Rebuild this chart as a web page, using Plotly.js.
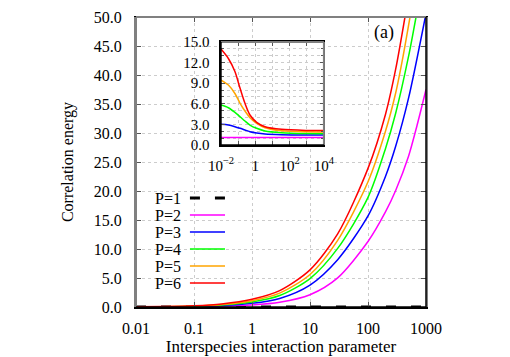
<!DOCTYPE html>
<html>
<head>
<meta charset="utf-8">
<script src="https://cdn.plot.ly/plotly-3.0.1.min.js"></script>
<style>html,body{margin:0;padding:0;background:#fff;}#plot{width:510px;height:357px;}</style>
</head>
<body>
<div id="plot"></div>
<script>
// ---- main panel data (interaction parameter g, correlation energy E) ----
const seriesNames = ['P=1', 'P=2', 'P=3', 'P=4', 'P=5', 'P=6'];
const seriesColors = ['#000000', '#ff00ff', '#0000ff', '#00ff00', '#ffa500', '#ff0000'];

const gP1 = [0.01, 1000];
const eP1 = [0, 0];
const gP2 = [0.01, 0.03, 0.1, 0.3, 1, 3, 10, 30, 100, 200, 300, 500, 700, 1000];
const eP2 = [0.006, 0.018, 0.052, 0.13, 0.34, 0.81, 2.12, 5.03, 11.3, 16.4, 20.1, 26.0, 31.3, 37.5];
const gP3 = [0.01, 0.03, 0.1, 0.3, 1, 3, 10, 30, 100, 200, 300, 500, 1000];
const eP3 = [0.012, 0.035, 0.1, 0.24, 0.63, 1.48, 3.79, 8.16, 15.7, 22.5, 27.7, 36.0, 50.6];
const gP4 = [0.01, 0.03, 0.1, 0.3, 1, 3, 10, 30, 100, 200, 300, 500, 673];
const eP4 = [0.016, 0.047, 0.135, 0.34, 0.86, 1.97, 4.9, 10.1, 18.9, 27.3, 33.4, 43.2, 50.0];
const gP5 = [0.01, 0.03, 0.1, 0.3, 1, 3, 10, 30, 100, 200, 300, 400, 530];
const eP5 = [0.02, 0.06, 0.17, 0.43, 1.09, 2.39, 5.61, 11.5, 21.6, 30.3, 36.9, 43.1, 50.0];
const gP6 = [0.01, 0.03, 0.1, 0.3, 1, 3, 10, 30, 100, 200, 300, 434];
const eP6 = [0.025, 0.075, 0.21, 0.53, 1.33, 2.82, 6.4, 12.6, 23.9, 33.2, 41.0, 50.0];

// ---- inset data ----
const gInset = [0.01, 0.027, 0.065, 0.13, 0.25, 0.49, 1.2, 3.7, 34, 1000, 10000];
const iP2 = [1.1, 1.1, 1.1, 1.1, 1.1, 1.1, 1.1, 1.1, 1.1, 1.1, 1.1];
const iP3 = [3.01, 2.91, 2.67, 2.43, 2.18, 1.94, 1.75, 1.6, 1.5, 1.46, 1.46];
const iP4 = [5.82, 5.43, 4.75, 4.12, 3.49, 2.91, 2.43, 2.04, 1.79, 1.67, 1.65];
const iP5 = [9.46, 8.73, 7.5, 6.07, 4.95, 3.98, 3.15, 2.52, 2.08, 1.92, 1.9];
const iP6 = [13.97, 12.6, 10.7, 8.25, 6.07, 4.37, 3.3, 2.67, 2.28, 2.12, 2.1];

// ---- tick labels ----
const xTickVals = [0.01, 0.1, 1, 10, 100, 1000];
const xTickText = ['0.01', '0.1', '1', '10', '100', '1000'];
const insetXTickVals = [0.01, 1, 100, 10000];
const insetXTickText = ['10<sup>\u22122</sup>', '1', '10<sup>2</sup>', '10<sup>4</sup>'];

const FONT = 'Liberation Serif';
const mainG = [gP1, gP2, gP3, gP4, gP5, gP6];
const mainE = [eP1, eP2, eP3, eP4, eP5, eP6];
const insetE = [null, iP2, iP3, iP4, iP5, iP6];

const traces = [];
for (let i = 0; i < seriesNames.length; i++) {
  const isP1 = i === 0;
  traces.push({
    x: mainG[i], y: mainE[i], type: 'scatter', mode: 'lines', name: seriesNames[i],
    xaxis: 'x', yaxis: 'y', showlegend: false, hoverinfo: 'skip',
    line: isP1 ? {color: seriesColors[i], width: 3, dash: '10px,15px'}
               : {color: seriesColors[i], width: 1.5, shape: 'spline', smoothing: 0.8}
  });
}
for (let i = 1; i < seriesNames.length; i++) {
  traces.push({
    x: gInset, y: insetE[i], type: 'scatter', mode: 'lines', name: seriesNames[i] + ' inset',
    xaxis: 'x2', yaxis: 'y2', showlegend: false, hoverinfo: 'skip',
    line: {color: seriesColors[i], width: 1.5, shape: 'spline', smoothing: 0.8}
  });
}

const annotations = [];
const shapes = [];
shapes.push({type: 'rect', xref: 'paper', yref: 'paper', x0: 0.041, x1: 0.79, y0: 0.452, y1: 0.976,
  fillcolor: '#ffffff', line: {width: 0}, layer: 'between'});
shapes.push({type: 'rect', xref: 'paper', yref: 'paper', x0: 0.04, x1: 0.335, y0: 0.052, y1: 0.417,
  fillcolor: '#ffffff', line: {width: 0}, layer: 'between'});
for (let i = 0; i < seriesNames.length; i++) {
  const yPix = 198 + i * 17;
  const yp = (307 - yPix) / 290;
  annotations.push({xref: 'paper', yref: 'paper', x: 0.162, y: yp, xanchor: 'right', yanchor: 'middle',
    text: seriesNames[i], showarrow: false, font: {family: FONT, size: 16, color: '#000'}});
  shapes.push({type: 'line', xref: 'paper', yref: 'paper', x0: 0.186, x1: 0.307, y0: yp, y1: yp,
    line: i === 0 ? {color: '#000', width: 3, dash: '10px,15px'} : {color: seriesColors[i], width: 1.5}});
}
annotations.push({xref: 'paper', yref: 'paper', x: 0.855, y: 0.945, xanchor: 'center', yanchor: 'middle',
  text: '(a)', showarrow: false, font: {family: FONT, size: 18, color: '#000'}});

shapes.push({type: 'line', xref: 'paper', yref: 'paper', x0: 0, x1: 1, y0: 1, y1: 1, line: {color: '#808080', width: 2}, layer: 'above'});
shapes.push({type: 'line', xref: 'paper', yref: 'paper', x0: 0, x1: 0, y0: 0, y1: 1, line: {color: '#808080', width: 2}, layer: 'above'});
shapes.push({type: 'line', xref: 'paper', yref: 'paper', x0: 1, x1: 1, y0: 0, y1: 1, line: {color: '#000', width: 1.5}, layer: 'above'});
shapes.push({type: 'line', xref: 'paper', yref: 'paper', x0: 0, x1: 1, y0: 0, y1: 0, line: {color: '#000', width: 1.5}, layer: 'above'});
shapes.push({type: 'line', xref: 'x2 domain', yref: 'y2 domain', x0: 0, x1: 1, y0: 1, y1: 1, line: {color: '#808080', width: 2}, layer: 'above'});
shapes.push({type: 'line', xref: 'x2 domain', yref: 'y2 domain', x0: 1, x1: 1, y0: 0, y1: 1, line: {color: '#808080', width: 2}, layer: 'above'});
shapes.push({type: 'line', xref: 'x2 domain', yref: 'y2 domain', x0: 0, x1: 0, y0: 0, y1: 1, line: {color: '#000', width: 1.5}, layer: 'above'});
shapes.push({type: 'line', xref: 'x2 domain', yref: 'y2 domain', x0: 0, x1: 1, y0: 0, y1: 0, line: {color: '#000', width: 1.5}, layer: 'above'});

const tickFont = {family: FONT, size: 16, color: '#000'};
const gridStyle = {showgrid: true, gridcolor: '#cccccc', griddash: 'dot', gridwidth: 1};
const layout = {
  width: 510, height: 357,
  margin: {l: 136, r: 84, t: 17, b: 50, pad: 0},
  paper_bgcolor: '#fff', plot_bgcolor: '#fff',
  showlegend: false,
  font: {family: FONT, size: 16, color: '#000'},
  xaxis: Object.assign({
    type: 'log', range: [-2, 3], tickvals: xTickVals, ticktext: xTickText,
    ticks: 'inside', ticklen: 5, tickcolor: '#555', showline: true, linecolor: '#000', linewidth: 1.5, mirror: 'ticks',
    zeroline: false, tickfont: tickFont, ticklabelstandoff: 6,
    title: {text: 'Interspecies interaction parameter', font: {family: FONT, size: 17}, standoff: 3}
  }, gridStyle),
  yaxis: Object.assign({
    range: [0, 50], dtick: 5, tick0: 0, tickformat: '.1f',
    ticks: 'inside', ticklen: 5, tickcolor: '#555', showline: true, linecolor: '#808080', linewidth: 2, mirror: 'ticks',
    zeroline: false, tickfont: tickFont, ticklabelstandoff: 9,
    title: {text: 'Correlation energy', font: {family: FONT, size: 16}, standoff: 16}
  }, gridStyle),
  xaxis2: Object.assign({
    type: 'log', range: [-2, 4], domain: [0.293, 0.648], anchor: 'y2',
    tickvals: insetXTickVals, ticktext: insetXTickText,
    ticks: 'inside', ticklen: 4, tickcolor: '#555', showline: true, linecolor: '#000', linewidth: 1.5, mirror: 'ticks',
    zeroline: false, tickfont: {family: FONT, size: 15, color: '#000'}, ticklabelstandoff: 6,
    minor: {dtick: 1, ticks: 'inside', ticklen: 4, tickcolor: '#555', showgrid: true, gridcolor: '#cccccc', griddash: 'dot'}
  }, gridStyle),
  yaxis2: Object.assign({
    range: [0, 15], domain: [0.5586, 0.9138], anchor: 'x2', dtick: 3, tick0: 0, tickformat: '.1f',
    ticks: 'inside', ticklen: 4, tickcolor: '#555', showline: true, linecolor: '#000', linewidth: 1.5, mirror: 'ticks',
    zeroline: false, tickfont: {family: FONT, size: 15, color: '#000'}, ticklabelstandoff: 7,
    minor: {dtick: 1, ticks: 'inside', ticklen: 3, tickcolor: '#555', showgrid: true, gridcolor: '#cccccc', griddash: 'dot'}
  }, gridStyle),
  annotations: annotations,
  shapes: shapes
};

Plotly.newPlot('plot', traces, layout, {staticPlot: true, displayModeBar: false});
</script>
</body>
</html>
